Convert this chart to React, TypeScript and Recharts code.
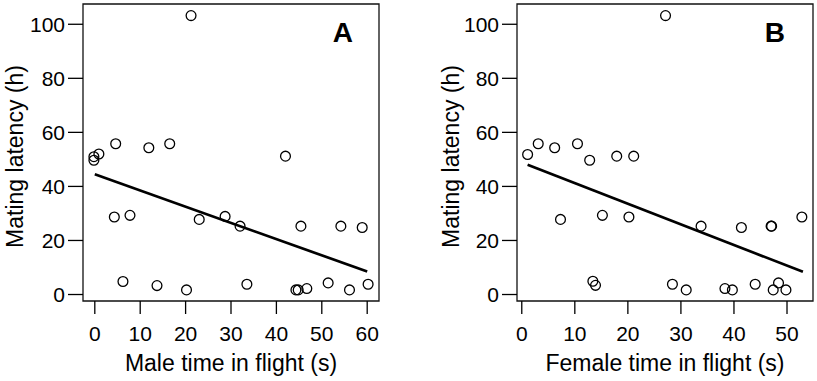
import { ScatterChart, Scatter, XAxis, YAxis, ReferenceArea, ReferenceLine } from "recharts";

// panel A: male time in flight (s) vs mating latency (h)
const maleFlight = [-0.2, -0.2, 0.9, 4.6, 11.9, 16.5, 42.0, 21.2, 4.3, 7.75, 23.0, 28.7, 32.0, 45.4, 54.2, 58.9, 6.2, 13.7, 20.2, 33.5, 44.3, 44.8, 46.7, 51.4, 56.1, 60.2];
const maleLatency = [51.0, 49.7, 52.0, 55.8, 54.3, 55.8, 51.2, 103.2, 28.7, 29.3, 27.8, 28.9, 25.3, 25.3, 25.3, 24.8, 4.8, 3.3, 1.7, 3.8, 1.7, 1.7, 2.2, 4.3, 1.7, 3.8];
const maleFitX = [0, 60];
const maleFitY = [44.5, 8.5];

// panel B: female time in flight (s) vs mating latency (h)
const femaleFlight = [1.1, 3.1, 6.2, 10.5, 12.8, 17.9, 21.1, 27.1, 7.3, 15.2, 20.2, 33.8, 41.4, 47.0, 47.1, 52.8, 13.4, 13.9, 28.4, 31.0, 38.3, 39.7, 44.0, 47.4, 48.4, 49.8];
const femaleLatency = [51.8, 55.8, 54.3, 55.8, 49.7, 51.2, 51.2, 103.2, 27.8, 29.3, 28.7, 25.3, 24.8, 25.3, 25.3, 28.7, 4.9, 3.4, 3.8, 1.7, 2.2, 1.7, 3.8, 1.7, 4.3, 1.7];
const femaleFitX = [1.1, 53];
const femaleFitY = [48.0, 8.4];

const maleTicks = [0, 10, 20, 30, 40, 50, 60];
const femaleTicks = [0, 10, 20, 30, 40, 50];
const latencyTicks = [0, 20, 40, 60, 80, 100];

const FONT = "'Liberation Sans', Arial, sans-serif";
const Y_DOMAIN: [number, number] = [-2.4, 107.5];

const toPoints = (xs: number[], ys: number[]) => xs.map((x, i) => ({ x, y: ys[i] }));

const OpenCircle = (props: any) => (
  <circle cx={props.cx} cy={props.cy} r={4.9} fill="none" stroke="#000" strokeWidth={1.3} />
);

interface PanelProps {
  width: number;
  yAxisWidth: number;
  xDomain: [number, number];
  xTicks: number[];
  flight: number[];
  latency: number[];
  fitX: number[];
  fitY: number[];
  xLabel: string;
  tag: string;
  tagRight: number;
  yLabelX: number;
}

function Panel(p: PanelProps) {
  const data = toPoints(p.flight, p.latency);
  const plotW = 296;
  return (
    <ScatterChart
      width={p.width}
      height={381}
      margin={{ top: 4, right: p.width - p.yAxisWidth - plotW, bottom: 0, left: 0 }}
    >
      <XAxis
        type="number"
        dataKey="x"
        domain={p.xDomain}
        allowDataOverflow
        ticks={p.xTicks}
        interval={0}
        height={80}
        axisLine={false}
        tickLine={{ stroke: "#000", strokeWidth: 1.3 }}
        tickSize={13}
        tickMargin={12}
        tick={{ fill: "#000", fontSize: 21, fontFamily: FONT }}
        label={{
          content: ({ viewBox }: any) => (
            <text
              x={viewBox.x + viewBox.width / 2}
              y={371}
              textAnchor="middle"
              fontSize={23}
              fontFamily={FONT}
              fill="#000"
            >
              {p.xLabel}
            </text>
          ),
        }}
      />
      <YAxis
        type="number"
        dataKey="y"
        domain={Y_DOMAIN}
        allowDataOverflow
        ticks={latencyTicks}
        interval={0}
        width={p.yAxisWidth}
        axisLine={false}
        tickLine={{ stroke: "#000", strokeWidth: 1.3 }}
        tickSize={15}
        tickMargin={3}
        tick={{ fill: "#000", fontSize: 21, fontFamily: FONT }}
        label={{
          content: ({ viewBox }: any) => (
            <text
              transform={`translate(${p.yLabelX},${viewBox.y + viewBox.height / 2 + 4}) rotate(-90)`}
              textAnchor="middle"
              fontSize={23}
              fontFamily={FONT}
              fill="#000"
            >
              Mating latency (h)
            </text>
          ),
        }}
      />
      {/* box around the plot region, like R's bty="o" */}
      <ReferenceArea
        x1={p.xDomain[0]}
        x2={p.xDomain[1]}
        y1={Y_DOMAIN[0]}
        y2={Y_DOMAIN[1]}
        fill="none"
        stroke="#111"
        strokeWidth={1.3}
        label={{
          content: ({ viewBox }: any) => (
            <text
              x={viewBox.x + viewBox.width - p.tagRight}
              y={viewBox.y + 38}
              textAnchor="end"
              fontSize={28}
              fontWeight="bold"
              fontFamily={FONT}
              fill="#000"
            >
              {p.tag}
            </text>
          ),
        }}
      />
      <ReferenceLine
        segment={[
          { x: p.fitX[0], y: p.fitY[0] },
          { x: p.fitX[1], y: p.fitY[1] },
        ]}
        stroke="#000"
        strokeWidth={2.7}
      />
      <Scatter data={data} shape={OpenCircle} isAnimationActive={false} />
    </ScatterChart>
  );
}

export default function App() {
  return (
    <div style={{ position: "absolute", left: 0, top: 0, width: 817, height: 381, display: "flex", background: "#fff" }}>
      <Panel
        width={410}
        yAxisWidth={83}
        xDomain={[-2.6, 62.6]}
        xTicks={maleTicks}
        flight={maleFlight}
        latency={maleLatency}
        fitX={maleFitX}
        fitY={maleFitY}
        xLabel="Male time in flight (s)"
        tag="A"
        tagRight={26}
        yLabelX={22.7}
      />
      <Panel
        width={407}
        yAxisWidth={107}
        xDomain={[-0.9, 54.9]}
        xTicks={femaleTicks}
        flight={femaleFlight}
        latency={femaleLatency}
        fitX={femaleFitX}
        fitY={femaleFitY}
        xLabel="Female time in flight (s)"
        tag="B"
        tagRight={28}
        yLabelX={49.3}
      />
    </div>
  );
}
